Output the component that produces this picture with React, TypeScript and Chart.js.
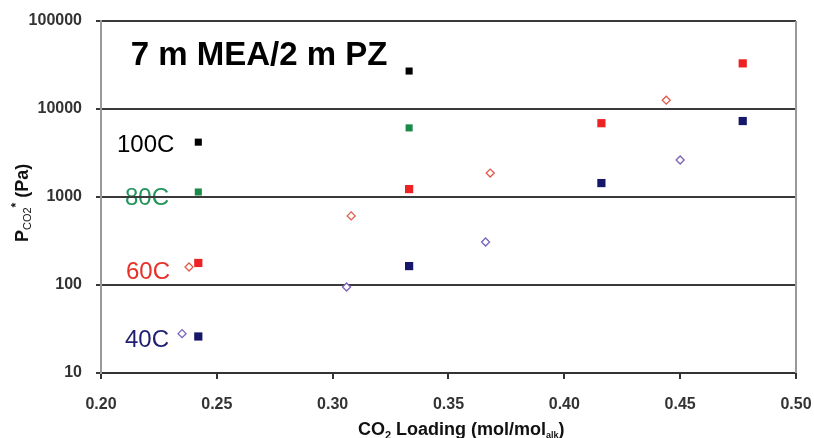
import React, { useEffect, useRef } from "react";
import { Chart, registerables } from "chart.js";

Chart.register(...registerables);

const FONT = "'Liberation Sans', Arial, sans-serif";

// X ticks (CO2 loading) and Y ticks (P_CO2*, Pa)
const xTickValues = [0.2, 0.25, 0.3, 0.35, 0.4, 0.45, 0.5];
const yTickValues = [10, 100, 1000, 10000, 100000];

// 100C (filled black squares)
const t100X = [0.242, 0.333];
const t100Y = [4200, 27000];
// 80C (filled green squares)
const t80X = [0.242, 0.333];
const t80Y = [1140, 6100];
// 60C (filled red squares)
const t60X = [0.242, 0.333, 0.416, 0.477];
const t60Y = [178, 1230, 6900, 33000];
// 60C (open red diamonds)
const t60oX = [0.238, 0.308, 0.368, 0.444];
const t60oY = [160, 610, 1870, 12600];
// 40C (filled navy squares)
const t40X = [0.242, 0.333, 0.416, 0.477];
const t40Y = [26, 164, 1440, 7300];
// 40C (open purple diamonds)
const t40oX = [0.235, 0.306, 0.366, 0.45];
const t40oY = [28, 95, 308, 2630];

const seriesLabels = ["100C", "80C", "60C", "40C"];
const chartTitle = "7 m MEA/2 m PZ";

const pts = (xs: number[], ys: number[]) => xs.map((x, i) => ({ x, y: ys[i] }));

const textPlugin = {
  id: "textPlugin",
  beforeDraw(chart: any) {
    const { ctx, chartArea } = chart;
    const L = chartArea.left;
    const T = chartArea.top;
    ctx.save();
    ctx.textAlign = "center";
    ctx.textBaseline = "alphabetic";
    ctx.fillStyle = "#000";
    ctx.font = `bold 33px ${FONT}`;
    ctx.fillText(chartTitle, L + 158, T + 44);

    ctx.textAlign = "left";
    ctx.font = `24px ${FONT}`;
    const labelPos = [
      { dx: 16, dy: 131, c: "#000000" },
      { dx: 24, dy: 184, c: "#22955a" },
      { dx: 25, dy: 258, c: "#e8302a" },
      { dx: 24, dy: 326, c: "#1f1f72" },
    ];
    seriesLabels.forEach((s, i) => {
      ctx.fillStyle = labelPos[i].c;
      ctx.fillText(s, L + labelPos[i].dx, T + labelPos[i].dy);
    });
    ctx.restore();
  },
  afterDraw(chart: any) {
    const { ctx, chartArea } = chart;
    ctx.save();
    // right border
    ctx.strokeStyle = "#999";
    ctx.lineWidth = 2;
    ctx.beginPath();
    ctx.moveTo(chartArea.right, chartArea.top);
    ctx.lineTo(chartArea.right, chartArea.bottom);
    ctx.stroke();

    ctx.fillStyle = "#111";
    ctx.textBaseline = "alphabetic";
    // X axis title
    const parts: [string, string, number][] = [
      ["CO", `bold 18px ${FONT}`, 0],
      ["2", `bold 11px ${FONT}`, 4],
      [" Loading (mol/mol", `bold 18px ${FONT}`, 0],
      ["alk", `bold 9px ${FONT}`, 3],
      [")", `bold 18px ${FONT}`, 0],
    ];
    let x = 358 + (chartArea.left - 101);
    const base = chartArea.bottom + 62;
    parts.forEach(([t, f, off]) => {
      ctx.font = f;
      ctx.textAlign = "left";
      ctx.fillText(t, x, base + off);
      x += ctx.measureText(t).width;
    });

    // Y axis title (rotated)
    const yparts: [string, string, number][] = [
      ["P", `bold 18px ${FONT}`, 0],
      ["CO2", `11px ${FONT}`, 3],
      ["*", `bold 12px ${FONT}`, -8],
      [" (Pa)", `bold 18px ${FONT}`, 0],
    ];
    ctx.translate(28, 242);
    ctx.rotate(-Math.PI / 2);
    let px = 0;
    yparts.forEach(([t, f, off]) => {
      ctx.font = f;
      ctx.textAlign = "left";
      ctx.fillText(t, px, off);
      px += ctx.measureText(t).width;
    });
    ctx.restore();
  },
};

export default function App() {
  const ref = useRef<HTMLCanvasElement | null>(null);

  useEffect(() => {
    document.body.style.margin = "0";
    const canvas = ref.current;
    if (!canvas) return;
    const squares = (data: any, color: string, r: number) => ({
      data,
      pointStyle: "rect",
      pointRadius: r,
      pointBackgroundColor: color,
      pointBorderColor: color,
      pointBorderWidth: 0,
      showLine: false,
    });
    const diamonds = (data: any, color: string) => ({
      data,
      pointStyle: "rectRot",
      pointRadius: 4,
      pointBackgroundColor: "#ffffff",
      pointBorderColor: color,
      pointBorderWidth: 1.3,
      showLine: false,
    });
    const chart = new Chart(canvas, {
      type: "scatter",
      data: {
        datasets: [
          squares(pts(t100X, t100Y), "#000000", 5),
          squares(pts(t80X, t80Y), "#1a8a48", 5),
          squares(pts(t60X, t60Y), "#ee2222", 5.8),
          diamonds(pts(t60oX, t60oY), "#e05a4a"),
          squares(pts(t40X, t40Y), "#16166a", 5.8),
          diamonds(pts(t40oX, t40oY), "#7a62b8"),
        ] as any,
      },
      options: {
        animation: false,
        responsive: true,
        maintainAspectRatio: false,
        layout: { padding: { top: 21, right: 18, left: 0, bottom: 0 } },
        plugins: {
          legend: { display: false },
          tooltip: { enabled: false },
        },
        scales: {
          x: {
            type: "linear",
            min: 0.2,
            max: 0.5,
            afterBuildTicks: (s: any) => {
              s.ticks = xTickValues.map((v) => ({ value: v }));
            },
            afterFit: (s: any) => {
              s.height = 65;
              s.paddingLeft = 0;
              s.paddingRight = 0;
            },
            ticks: {
              callback: (v: any) => Number(v).toFixed(2),
              font: { family: FONT, size: 16, weight: "bold" },
              color: "#333",
              padding: 16,
              maxRotation: 0,
            },
            grid: {
              drawOnChartArea: false,
              drawTicks: true,
              tickLength: 6,
              color: "#333",
              lineWidth: 2,
            },
            border: { color: "#333", width: 2 },
          },
          y: {
            type: "logarithmic",
            min: 10,
            max: 100000,
            afterBuildTicks: (s: any) => {
              s.ticks = yTickValues.map((v) => ({ value: v }));
            },
            afterFit: (s: any) => {
              s.width = 101;
              s.paddingTop = 0;
              s.paddingBottom = 0;
            },
            ticks: {
              callback: (v: any) => String(v),
              font: { family: FONT, size: 16, weight: "bold" },
              color: "#333",
              padding: 14,
            },
            grid: {
              color: "#3a3a3a",
              lineWidth: 2,
              tickLength: 5,
            },
            border: { color: "#999", width: 2 },
          },
        },
      },
      plugins: [textPlugin],
    } as any);
    return () => chart.destroy();
  }, []);

  return (
    <div style={{ width: 814, height: 438, position: "relative" }}>
      <canvas ref={ref} />
    </div>
  );
}
